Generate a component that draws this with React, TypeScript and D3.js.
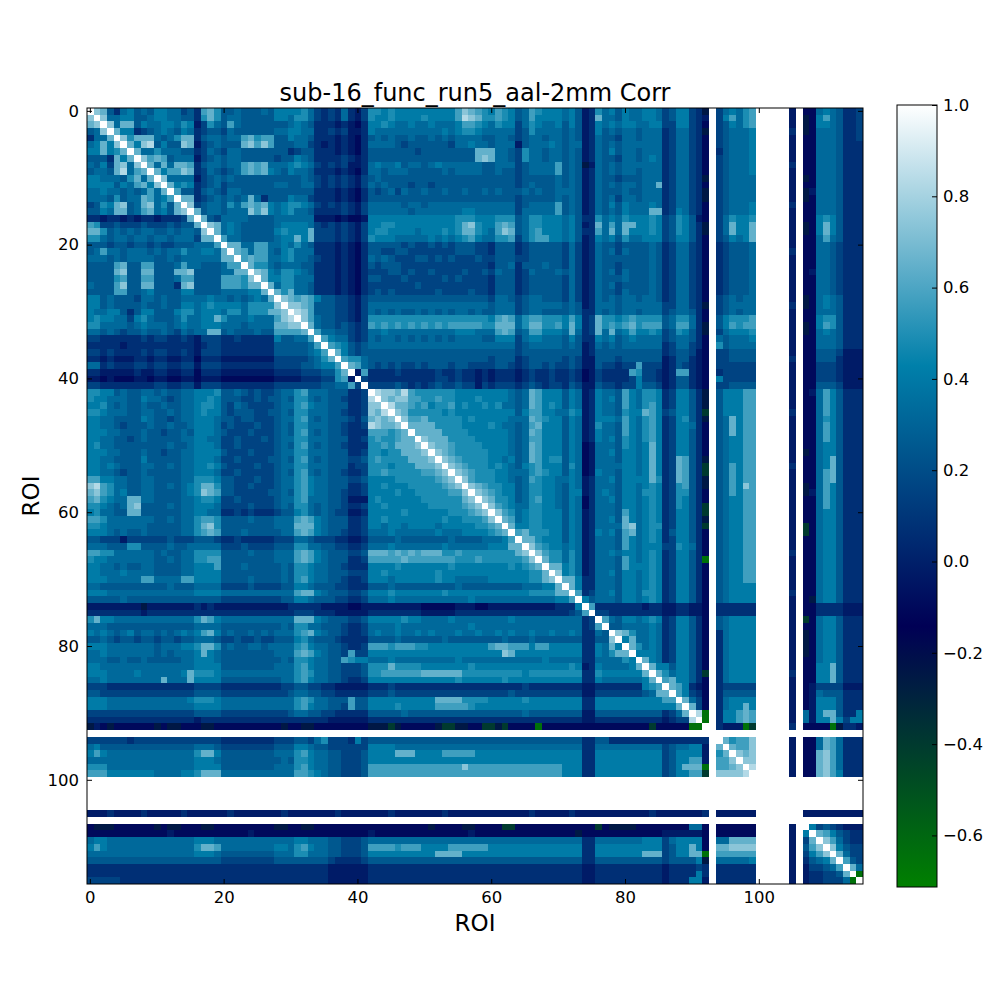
import { useEffect, useRef } from 'react'
import * as d3 from 'd3'

const title = 'sub-16_func_run5_aal-2mm Corr'
const axisLabel = 'ROI'
const roiCount = 116
const nanRois = [93, 100, 101, 102, 103, 104, 106]
const roiTicks = [0, 20, 40, 60, 80, 100]
const cbarTicks = [-0.6, -0.4, -0.2, 0.0, 0.2, 0.4, 0.6, 0.8, 1.0]
const vmin = -0.713
const vmax = 1.0

// one character per cell (quantised)
const levelCodes = ['G', 'h', 'g', '0', '1', '2', '3', '4', '5', '6', '7', '8', '9', 'A', 'B', 'C']
const levelValues = [-0.65, -0.4, -0.25, -0.1, -0.02, 0.07, 0.16, 0.25, 0.33, 0.41, 0.49, 0.57, 0.65, 0.74, 0.83, 0.92]

// lower triangle: row i holds columns 0..i-1 ('.' = NaN, empty = NaN row)
const lowerRows = [
  '',
  'A',
  '9A',
  '45A',
  '2559',
  '5696A',
  '669679',
  '4442969',
  '54639A5A',
  '45549B589',
  '6655547959',
  '6666465896 A',
  '5565545458 59',
  '5554745598 568',
  '34769A459A 5749',
  '4465994589 5649A',
  '2212212122 122239',
  '8733433343 3343449',
  '9974545455 44545 54A',
  '7754554554 554555399',
  '4443443443 4334445558',
  '4585545554 5455755665 9',
  '5554545555 4454555555 99',
  '4444894488 4445855444 588',
  '44449A4499 44499A4444 5599',
  '4444784488 4445884444 8887A',
  '54448A4499 44429A4444 888799',
  '4444884456 4444664444 5555669',
  '6645444355 4544555565 54545659',
  '6645444454 4544665676 66657777A',
  '6556642466 4446775666 577577799A',
  '6766553675 4445755669 755565558A B',
  '7755554565 5545655666 5554555599 AA',
  '5545434454 4543545599 4544454488 889',
  '3322222232 3322321333 2232222264 4558',
  '2222212222 2222221233 2222222244 44458',
  '3323222232 3322321333 2222222244 444568',
  '2212111221 2211220222 1111111133 3334579',
  '5523222332 3322331333 2222222233 33445668',
  '2211111211 2211220222 1111111122 223334479',
  '1101000110 1100110111 0000000011 1122233781',
  '3322222222 3322331333 2222222233 3333344558 3',
  '7766454455 4544556667 4454343345 5785554442 23',
  '7665554465 5434556676 4443343445 4775454432 23B',
  '6675454454 4544556776 4354333345 5786554442 23AA',
  '7765554455 4454556766 4344433445 4775554432 23A9B',
  '6655444465 4434556665 4434433345 5785454443 249A9A',
  '6655434445 4454456665 3433343345 4775554432 23BA99A',
  '6665544454 4344546665 4333433345 4785454432 22888789',
  '6655443454 4444556655 3343334345 5775554442 237877899',
  '6755444444 4454456665 3343333345 4785454432 227787999A',
  '6665544454 4344556666 4333433345 5775554442 2377677999 A',
  '6655444464 4444556665 3343333445 4785454443 3478777799 9A',
  '6656544455 4454556676 4333343345 5775554442 3377767779 99A',
  '6655434454 4444556665 3343333345 4785454432 2377877777 889A',
  '8866554455 4444557776 4433343345 5786554443 3466667777 7789A',
  'AB87554455 4454567997 4433433345 5786554442 2366766677 77789A',
  '9A87564455 4444567A98 4433333445 4786554432 2366667667 777788A',
  '8976559955 4444556776 3343333345 5785554431 1167666666 7777779A',
  '7765459A44 4454556665 3333433345 4775454432 2366766666 67777789A',
  '6755449944 4444556655 2232322234 4675454331 1266666766 666677789A',
  '8875555555 4454557887 4444544455 5898654442 2366766666 6667667778 A',
  '7765555554 44445579A7 4444444455 5999654442 2366566566 6656666677 89',
  '6665454454 4444557898 4445444445 5898654432 2355565555 5565556666 789',
  '4433313333 3343334443 2232222233 3554333221 1244445444 4444544445 5568',
  '5554447744 4454455555 3334333344 4775544332 2355565555 5556555555 66699',
  '8877555555 4544557777 4444544455 5898654443 3499989898 9997787777 77779A',
  '7665555555 4454557788 4444444455 5898654442 2388888988 8888877787 777778A',
  '6655454455 4444556668 4445444445 4776554432 2266667666 6666766666 66676789',
  '6655565555 4444556666 4444444445 4776554443 3366766666 6676666666 666666779',
  '6665555588 5555886666 4444544445 4786554432 2366656666 6676655555 666666779A',
  '5544444444 4454445555 3333433334 4665444332 2244454444 4444454444 4444455566 9',
  '6665555555 5555556666 5555555555 5899654443 3466676666 6667666666 6666667777 99',
  '4444454444 4444444444 3333333334 4665444332 2355565555 5555555655 5555555555 668',
  '11111111g1 1111112121 1111111111 2222211110 0111111111 0000011100 1111111111 2226',
  '2222222212 2222222222 2222222222 2333222111 1122222222 1111122222 2222222222 22348',
  '7966555555 5555557986 5555555555 5999654443 3466666766 5555655555 5556555555 555523',
  '5554444444 4444445555 4444444445 4775544432 2355556555 5555555655 5555555555 5555238',
  '6565456455 4545656896 4544545455 5789654432 2356556556 5655565565 5656556556 55652254',
  '4454344344 3443445554 3343343344 4675444322 2244445444 4445444444 4454445444 44442244A',
  '6665555555 4555667997 4544554555 5786554432 2388878887 7666666666 8998886886 6666226596',
  '5565555555 4545556965 4444444455 5898654438 3366666666 6666666666 66A9666666 6666226579 9',
  '5554454454 4444556665 4444444445 4776554487 6655565555 5555565555 5555555565 5555225555 76',
  '6655555555 5555556666 4444444455 5786554433 3477797777 6666666766 6666666666 6676126555 569',
  '6665555655 5555697776 5555555555 5787554433 3477888888 9999997777 7777767777 7777227666 6669',
  '5565555555 5955596666 4444444445 5786554432 2366666666 6666676666 6676666666 6666226555 55569',
  '3332222222 2222223333 2222222223 3443322111 1122232222 2222222222 2222232222 2222112222 222678',
  '4433333333 3333334444 3333333333 4554433222 2233343333 3333333333 3334333333 3333113333 3334599',
  '6665555555 5555567776 5555555555 5787554448 4466666666 6699997777 6666676666 6666226666 66666688',
  '6665555555 5555556666 5555555555 5786554438 4466667666 6688888766 6666666666 6666226666 666666669',
  '3333333333 3333334444 3333333333 4554433222 2244444544 4444444444 4444454444 4444114444 4444442359',
  '2222222222 2222221222 2222222222 2222221111 1122222222 2222222222 2222222222 2222112222 2222221233 B',
  'g10g000000 g0gg000gg0 000000000g 00gg000000 00ggghg000 00ghhgg00h hgh0000G00 0000000000 0000h00000 GG',
  '',
  '3333332333 3333333333 2222222233 3443573332 6344444444 4444444444 4444444444 4444224422 2222222222 222.',
  '5644444444 4444445554 3333333344 4665443333 3366665555 5555555555 5555555555 5555225555 5555553455 661.9',
  '6865555555 5555557996 4444444455 5786554433 3466669996 6668888866 6666666666 6666226666 6666663466 661.79',
  '5555555555 5555556665 4444444445 4776554433 3466666666 6666666666 6666666666 6666226666 6666663466 881.88A',
  '7775555555 5555556666 4444444455 5786554433 3488888888 888888A888 8888888888 8666226666 6666663469 99G.889A',
  '8886666666 5555667999 5555555555 5887654433 3488888888 8888888888 8888888888 8666226666 6666663466 88h.AAAAB',
  '',
  '',
  '',
  '',
  '',
  '1112111121 1111211111 1211111112 1111111211 1111121111 1112111111 1111112111 1121111111 1111211111 112.111111 .....',
  '',
  '0ggg000000 g0gg000gg0 00000000gg 00gg000000 0000000000 0g0000gg00 00hh000000 000000h0gg gg00000000 550.000000 .....1.',
  '0000000000 0010000000 0000100000 0000000000 0010000000 0000000100 0000000000 000g000000 0000001111 110.000000 .....1.6',
  '5665555555 5555556665 5555555555 5665554433 3455555555 5555555555 5555555555 5555225555 5556663566 660.559999 .....1.39',
  '6865555555 5555557998 5555555566 5786554433 3488887888 6666888888 6666666666 6666226666 6666663466 960.99AAAA .....1.48A',
  '5555555555 5555556665 4444444455 5775554433 3466666666 6699996666 6666666666 6666226666 6669993466 99G.888888 .....1.368A',
  '4444444444 4444444444 3333333344 4444443222 2344444444 4444444444 4444444444 4444224444 4444443444 46g.555556 .....1.24569',
  '2222222222 2222222222 2222222222 2222221111 1122222222 2222222222 2222222222 2222112222 2222221222 232.222222 .....1.133458',
  '2222222222 2222222222 2222222222 2222221111 1122222222 2222222222 2222222222 2222112222 2222221222 262.222222 .....1.1223349',
  '3333322222 2222222222 2222222222 2222221111 1122222222 2222222222 2222222222 2222112222 2222221222 661.222222 .....1.1223335G',
]

// matplotlib "ocean" colormap (gnuplot formulae 23, 28, 3)
function ocean(t: number) {
  const c = (v: number) => Math.round(255 * Math.max(0, Math.min(1, v)))
  return `rgb(${c(3 * t - 2)},${c(Math.abs((3 * t - 1) / 2))},${c(t)})`
}

export default function App() {
  const ref = useRef<SVGSVGElement>(null)

  useEffect(() => {
    const svg = d3.select(ref.current!)
    svg.selectAll('*').remove()
    const font = 'DejaVu Sans, sans-serif'
    const ax = { l: 87, t: 108, size: 776 }
    const cb = { l: 897, t: 105, w: 40, b: 887 }

    const nan = new Set(nanRois)
    const lookup = new Map(levelCodes.map((c, i) => [c, levelValues[i]]))
    const rows = lowerRows.map(r => r.replace(/\s/g, ''))
    const cells: { i: number; j: number; v: number }[] = []
    for (let i = 0; i < roiCount; i++) {
      for (let j = 0; j < roiCount; j++) {
        if (nan.has(i) || nan.has(j)) continue
        let v: number | undefined
        if (i === j) v = 1
        else {
          const a = Math.max(i, j), b = Math.min(i, j)
          v = lookup.get(rows[a]?.[b] ?? '')
        }
        if (v === undefined) continue
        cells.push({ i, j, v })
      }
    }

    const x = d3.scaleBand<number>().domain(d3.range(roiCount)).range([ax.l, ax.l + ax.size])
    const y = d3.scaleBand<number>().domain(d3.range(roiCount)).range([ax.t, ax.t + ax.size])
    const norm = d3.scaleLinear().domain([vmin, vmax]).range([0, 1]).clamp(true)

    svg.append('rect').attr('width', 1000).attr('height', 1000).attr('fill', '#fff')

    svg.append('g').attr('shape-rendering', 'crispEdges')
      .selectAll('rect').data(cells).enter().append('rect')
      .attr('x', d => x(d.j)!).attr('y', d => y(d.i)!)
      .attr('width', x.bandwidth()).attr('height', y.bandwidth())
      .attr('fill', d => ocean(norm(d.v)))

    const styleAxis = (g: d3.Selection<SVGGElement, unknown, null, undefined>) => {
      g.select('.domain').remove()
      g.attr('font-family', font).attr('font-size', 16.5)
      g.selectAll('line').attr('stroke', '#000')
      g.selectAll('text').attr('fill', '#000')
    }
    const bottom = ax.t + ax.size, right = ax.l + ax.size
    svg.append('g').attr('transform', `translate(0,${bottom})`)
      .call(d3.axisBottom(x).tickValues(roiTicks).tickSize(-5).tickPadding(7)).call(styleAxis)
    svg.append('g').attr('transform', `translate(0,${ax.t})`)
      .call(d3.axisTop(x).tickValues(roiTicks).tickSize(-5).tickFormat(() => '')).call(styleAxis)
    svg.append('g').attr('transform', `translate(${ax.l},0)`)
      .call(d3.axisLeft(y).tickValues(roiTicks).tickSize(-5).tickPadding(8)).call(styleAxis)
    svg.append('g').attr('transform', `translate(${right},0)`)
      .call(d3.axisRight(y).tickValues(roiTicks).tickSize(-5).tickFormat(() => '')).call(styleAxis)

    svg.append('rect').attr('x', ax.l).attr('y', ax.t).attr('width', ax.size).attr('height', ax.size)
      .attr('fill', 'none').attr('stroke', '#000').attr('stroke-width', 1)

    svg.append('text').attr('x', ax.l + ax.size / 2).attr('y', 101).attr('text-anchor', 'middle')
      .attr('font-family', font).attr('font-size', 24).text(title)
    svg.append('text').attr('x', ax.l + ax.size / 2).attr('y', 931).attr('text-anchor', 'middle')
      .attr('font-family', font).attr('font-size', 23).text(axisLabel)
    svg.append('text').attr('transform', `translate(39,${ax.t + ax.size / 2}) rotate(-90)`)
      .attr('text-anchor', 'middle').attr('font-family', font).attr('font-size', 23).text(axisLabel)

    // colorbar
    const cbScale = d3.scaleLinear().domain([vmin, vmax]).range([cb.b, cb.t])
    const grad = svg.append('defs').append('linearGradient').attr('id', 'cbar-grad')
      .attr('x1', 0).attr('y1', 1).attr('x2', 0).attr('y2', 0)
    d3.range(0, 1.0001, 1 / 48).forEach(t => {
      grad.append('stop').attr('offset', t).attr('stop-color', ocean(t))
    })
    svg.append('rect').attr('x', cb.l).attr('y', cb.t).attr('width', cb.w).attr('height', cb.b - cb.t)
      .attr('fill', 'url(#cbar-grad)').attr('stroke', '#000').attr('stroke-width', 1)
    svg.append('g').attr('transform', `translate(${cb.l + cb.w},0)`)
      .call(d3.axisRight(cbScale).tickValues(cbarTicks).tickSize(-5).tickPadding(6).tickFormat(d3.format('.1f')))
      .call(styleAxis)
  }, [])

  return (
    <svg ref={ref} width={1000} height={1000}
      style={{ position: 'absolute', left: 0, top: 0, display: 'block' }} />
  )
}
